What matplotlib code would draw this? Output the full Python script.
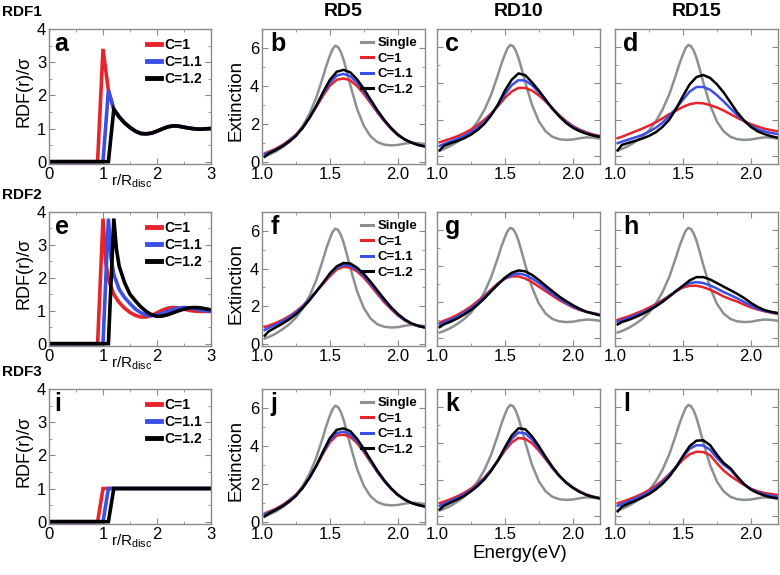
import matplotlib
matplotlib.use('Agg')
import matplotlib.pyplot as plt
from matplotlib.ticker import MultipleLocator, FormatStrFormatter
import matplotlib.transforms as mtransforms

plt.rcParams['font.family'] = ['Liberation Sans', 'DejaVu Sans']
plt.rcParams['mathtext.fontset'] = 'custom'
plt.rcParams['mathtext.rm'] = 'Liberation Sans'
plt.rcParams['mathtext.it'] = 'Liberation Sans'

# ---------------- RDF data ----------------
rdf1_r_red = [0, 0.9, 1.0, 1.1, 1.2, 1.3, 1.4, 1.5, 1.6, 1.7, 1.8, 1.9, 2.0, 2.1, 2.2, 2.3, 2.4, 2.5, 2.6, 2.7, 2.8, 2.9, 3.0]
rdf1_red = [0, 0, 3.4, 2.15, 1.58, 1.35, 1.17, 1.03, 0.92, 0.85, 0.84, 0.86, 0.92, 0.99, 1.05, 1.08, 1.07, 1.04, 1.01, 0.99, 0.98, 0.99, 1.0]
rdf1_r_blue = [0, 1.0, 1.1, 1.2, 1.3, 1.4, 1.5, 1.6, 1.7, 1.8, 1.9, 2.0, 2.1, 2.2, 2.3, 2.4, 2.5, 2.6, 2.7, 2.8, 2.9, 3.0]
rdf1_blue = [0, 0, 2.15, 1.58, 1.35, 1.17, 1.03, 0.92, 0.85, 0.84, 0.86, 0.92, 0.99, 1.05, 1.08, 1.07, 1.04, 1.01, 0.99, 0.98, 0.99, 1.0]
rdf1_r_black = [0, 1.1, 1.2, 1.3, 1.4, 1.5, 1.6, 1.7, 1.8, 1.9, 2.0, 2.1, 2.2, 2.3, 2.4, 2.5, 2.6, 2.7, 2.8, 2.9, 3.0]
rdf1_black = [0, 0, 1.58, 1.35, 1.17, 1.03, 0.92, 0.85, 0.84, 0.86, 0.92, 0.99, 1.05, 1.08, 1.07, 1.04, 1.01, 0.99, 0.98, 0.99, 1.0]

rdf2_r_red = [0, 0.9, 1.0, 1.05, 1.1, 1.2, 1.3, 1.4, 1.5, 1.6, 1.7, 1.8, 1.9, 2.0, 2.1, 2.2, 2.3, 2.4, 2.5, 2.6, 2.7, 2.8, 2.9, 3.0]
rdf2_red = [0, 0, 3.8, 2.5, 1.95, 1.5, 1.25, 1.08, 0.95, 0.86, 0.81, 0.81, 0.86, 0.94, 1.02, 1.08, 1.1, 1.08, 1.05, 1.01, 0.99, 0.98, 0.98, 0.98]
rdf2_r_blue = [0, 1.0, 1.1, 1.15, 1.2, 1.3, 1.4, 1.5, 1.6, 1.7, 1.8, 1.9, 2.0, 2.1, 2.2, 2.3, 2.4, 2.5, 2.6, 2.7, 2.8, 2.9, 3.0]
rdf2_blue = [0, 0, 3.8, 2.6, 2.1, 1.65, 1.4, 1.22, 1.05, 0.94, 0.87, 0.85, 0.87, 0.92, 0.98, 1.04, 1.08, 1.1, 1.09, 1.06, 1.03, 1.0, 0.99]
rdf2_r_black = [0, 1.1, 1.2, 1.25, 1.3, 1.4, 1.5, 1.6, 1.7, 1.8, 1.9, 2.0, 2.1, 2.2, 2.3, 2.4, 2.5, 2.6, 2.7, 2.8, 2.9, 3.0]
rdf2_black = [0, 0, 3.8, 2.85, 2.35, 1.85, 1.5, 1.3, 1.12, 0.98, 0.88, 0.83, 0.84, 0.88, 0.94, 1.0, 1.05, 1.09, 1.1, 1.09, 1.06, 1.03]

rdf3_r_red = [0, 0.9, 1.0, 3.0]
rdf3_red = [0, 0, 1, 1]
rdf3_r_blue = [0, 1.0, 1.1, 3.0]
rdf3_blue = [0, 0, 1, 1]
rdf3_r_black = [0, 1.1, 1.2, 3.0]
rdf3_black = [0, 0, 1, 1]

# ---------------- Extinction data ----------------
energy_single = [1.02, 1.05, 1.1, 1.15, 1.2, 1.25, 1.3, 1.35, 1.4, 1.425, 1.45, 1.475, 1.5,
                 1.52, 1.54, 1.56, 1.58, 1.6, 1.625, 1.65, 1.7, 1.75, 1.8, 1.85, 1.9,
                 1.95, 2.0, 2.05, 2.1, 2.15, 2.2]
single = [0.30, 0.38, 0.55, 0.78, 1.05, 1.4, 1.9, 2.55, 3.4, 3.95, 4.5, 5.1, 5.6,
          5.95, 6.12, 6.05, 5.8, 5.4, 4.75, 4.05, 2.8, 1.9, 1.35, 1.05, 0.92,
          0.88, 0.9, 0.97, 1.02, 1.0, 0.95]

energy = [1.02, 1.05, 1.1, 1.15, 1.2, 1.25, 1.3, 1.35, 1.4, 1.45, 1.5, 1.55, 1.6,
          1.65, 1.7, 1.75, 1.8, 1.85, 1.9, 1.95, 2.0, 2.05, 2.1, 2.15, 2.2]

b_red = [0.46, 0.55, 0.7, 0.9, 1.15, 1.45, 1.85, 2.35, 2.9, 3.5, 4.02, 4.33, 4.4, 4.3, 4.0, 3.58, 3.1, 2.6, 2.15, 1.75, 1.42, 1.18, 1.02, 0.9, 0.83]
b_blue = [0.4, 0.5, 0.66, 0.86, 1.12, 1.42, 1.83, 2.35, 2.95, 3.6, 4.18, 4.55, 4.64, 4.52, 4.18, 3.72, 3.18, 2.65, 2.18, 1.77, 1.43, 1.18, 1.02, 0.9, 0.83]
b_black = [0.28, 0.45, 0.63, 0.83, 1.08, 1.38, 1.8, 2.33, 2.97, 3.68, 4.33, 4.75, 4.85, 4.72, 4.35, 3.85, 3.28, 2.72, 2.22, 1.8, 1.45, 1.2, 1.03, 0.9, 0.82]

c_red = [0.75, 0.82, 0.95, 1.08, 1.25, 1.45, 1.7, 2.0, 2.35, 2.75, 3.2, 3.55, 3.75, 3.75, 3.6, 3.33, 3.0, 2.62, 2.25, 1.92, 1.65, 1.45, 1.3, 1.18, 1.1]
c_blue = [0.55, 0.65, 0.8, 0.94, 1.1, 1.3, 1.55, 1.88, 2.3, 2.8, 3.4, 3.9, 4.18, 4.15, 3.9, 3.5, 3.05, 2.6, 2.2, 1.87, 1.6, 1.4, 1.25, 1.13, 1.05]
c_black = [0.3, 0.55, 0.7, 0.82, 0.97, 1.17, 1.43, 1.78, 2.25, 2.85, 3.6, 4.2, 4.55, 4.45, 4.05, 3.6, 3.1, 2.6, 2.18, 1.82, 1.55, 1.36, 1.22, 1.12, 1.05]

d_red = [0.98, 1.05, 1.2, 1.35, 1.5, 1.67, 1.85, 2.07, 2.3, 2.5, 2.7, 2.85, 2.92, 2.9, 2.8, 2.67, 2.5, 2.3, 2.1, 1.92, 1.75, 1.62, 1.5, 1.42, 1.35]
d_blue = [0.7, 0.78, 0.9, 1.02, 1.15, 1.33, 1.55, 1.83, 2.2, 2.62, 3.1, 3.55, 3.8, 3.8, 3.65, 3.35, 3.0, 2.62, 2.25, 1.93, 1.65, 1.47, 1.35, 1.26, 1.2]
d_black = [0.3, 0.6, 0.72, 0.83, 0.95, 1.1, 1.3, 1.6, 2.0, 2.6, 3.3, 3.95, 4.35, 4.46, 4.3, 3.95, 3.5, 2.95, 2.4, 1.95, 1.6, 1.35, 1.2, 1.08, 1.0]

f_red = [0.9, 0.98, 1.12, 1.28, 1.48, 1.73, 2.03, 2.4, 2.8, 3.2, 3.6, 3.95, 4.1, 4.05, 3.85, 3.52, 3.1, 2.65, 2.22, 1.85, 1.52, 1.26, 1.07, 0.95, 0.88]
f_blue = [0.75, 0.86, 1.02, 1.2, 1.41, 1.68, 2.0, 2.38, 2.8, 3.25, 3.7, 4.05, 4.2, 4.15, 3.95, 3.62, 3.2, 2.74, 2.3, 1.9, 1.56, 1.28, 1.08, 0.96, 0.88]
f_black = [0.45, 0.68, 0.88, 1.08, 1.31, 1.58, 1.92, 2.32, 2.78, 3.25, 3.75, 4.12, 4.3, 4.27, 4.05, 3.72, 3.3, 2.84, 2.38, 1.96, 1.6, 1.31, 1.1, 0.97, 0.88]

g_red = [0.85, 0.95, 1.1, 1.28, 1.5, 1.75, 2.05, 2.35, 2.7, 3.05, 3.3, 3.42, 3.42, 3.3, 3.1, 2.85, 2.6, 2.35, 2.1, 1.9, 1.7, 1.55, 1.45, 1.38, 1.3]
g_blue = [0.75, 0.85, 1.0, 1.18, 1.4, 1.65, 1.95, 2.28, 2.65, 3.0, 3.3, 3.5, 3.58, 3.5, 3.3, 3.05, 2.75, 2.45, 2.2, 1.95, 1.75, 1.58, 1.45, 1.36, 1.28]
g_black = [0.6, 0.75, 0.9, 1.08, 1.3, 1.55, 1.85, 2.2, 2.6, 2.98, 3.35, 3.62, 3.75, 3.7, 3.5, 3.22, 2.9, 2.6, 2.3, 2.05, 1.82, 1.62, 1.45, 1.35, 1.25]

h_red = [1.0, 1.08, 1.2, 1.35, 1.5, 1.68, 1.88, 2.1, 2.35, 2.6, 2.8, 2.9, 2.9, 2.82, 2.68, 2.5, 2.3, 2.15, 2.02, 1.85, 1.7, 1.58, 1.48, 1.4, 1.33]
h_blue = [0.9, 0.98, 1.1, 1.25, 1.4, 1.58, 1.8, 2.05, 2.32, 2.62, 2.88, 3.05, 3.1, 3.05, 2.92, 2.75, 2.55, 2.38, 2.2, 2.0, 1.8, 1.62, 1.5, 1.42, 1.36]
h_black = [0.75, 0.88, 1.0, 1.15, 1.32, 1.52, 1.75, 2.0, 2.3, 2.6, 2.9, 3.2, 3.38, 3.38, 3.25, 3.05, 2.85, 2.65, 2.45, 2.22, 1.95, 1.72, 1.55, 1.45, 1.38]

j_red = [0.45, 0.55, 0.7, 0.9, 1.15, 1.45, 1.85, 2.35, 2.95, 3.6, 4.2, 4.55, 4.6, 4.48, 4.15, 3.68, 3.15, 2.62, 2.15, 1.75, 1.42, 1.18, 1.01, 0.9, 0.82]
j_blue = [0.4, 0.5, 0.66, 0.86, 1.12, 1.42, 1.83, 2.35, 2.97, 3.65, 4.3, 4.68, 4.75, 4.62, 4.25, 3.75, 3.2, 2.65, 2.17, 1.77, 1.43, 1.18, 1.01, 0.9, 0.82]
j_black = [0.3, 0.45, 0.63, 0.83, 1.08, 1.38, 1.8, 2.33, 2.97, 3.72, 4.42, 4.85, 4.93, 4.78, 4.38, 3.85, 3.27, 2.7, 2.2, 1.78, 1.44, 1.19, 1.01, 0.9, 0.82]

k_red = [0.7, 0.78, 0.92, 1.08, 1.27, 1.5, 1.78, 2.12, 2.55, 3.05, 3.6, 4.05, 4.3, 4.25, 4.0, 3.6, 3.12, 2.63, 2.2, 1.85, 1.57, 1.35, 1.18, 1.06, 0.98]
k_blue = [0.55, 0.66, 0.82, 0.99, 1.18, 1.42, 1.72, 2.08, 2.53, 3.08, 3.7, 4.25, 4.6, 4.55, 4.2, 3.72, 3.18, 2.65, 2.2, 1.84, 1.55, 1.33, 1.16, 1.05, 0.97]
k_black = [0.35, 0.55, 0.73, 0.9, 1.1, 1.35, 1.65, 2.02, 2.5, 3.08, 3.78, 4.43, 4.83, 4.78, 4.38, 3.85, 3.25, 2.7, 2.22, 1.84, 1.55, 1.32, 1.15, 1.04, 0.96]

l_red = [0.69, 0.77, 0.9, 1.05, 1.22, 1.42, 1.66, 1.95, 2.3, 2.7, 3.1, 3.4, 3.54, 3.52, 3.35, 2.9, 2.5, 2.2, 1.95, 1.7, 1.5, 1.36, 1.26, 1.2, 1.15]
l_blue = [0.55, 0.65, 0.8, 0.95, 1.12, 1.32, 1.56, 1.87, 2.25, 2.72, 3.25, 3.7, 3.9, 3.88, 3.65, 3.2, 2.82, 2.55, 2.12, 1.75, 1.48, 1.3, 1.18, 1.1, 1.05]
l_black = [0.25, 0.5, 0.68, 0.83, 1.0, 1.2, 1.45, 1.77, 2.17, 2.68, 3.3, 3.85, 4.15, 4.17, 3.9, 3.38, 2.92, 2.62, 2.17, 1.75, 1.45, 1.26, 1.12, 1.02, 0.96]

rdf_labels = ['C=1', 'C=1.1', 'C=1.2']
ext_labels = ['Single', 'C=1', 'C=1.1', 'C=1.2']
row_titles = ['RDF1', 'RDF2', 'RDF3']
col_titles = ['RD5', 'RD10', 'RD15']

RED = '#e8242b'
BLUE = '#3b4fe6'
BLACK = '#000000'
GRAY = '#8b9191'
SPINE = '#8a8a8a'

W, H = 780, 575
fig = plt.figure(figsize=(W / 100, H / 100), dpi=100)


def px_axes(x0, y0, x1, y1):
    return fig.add_axes([x0 / W, 1 - y1 / H, (x1 - x0) / W, (y1 - y0) / H])


def style(ax):
    for s in ax.spines.values():
        s.set_color(SPINE)
        s.set_linewidth(1.0)
    ax.tick_params(which='both', direction='in', top=True, right=True, color=SPINE,
                   labelsize=12, pad=2)
    ax.tick_params(which='major', length=4)
    ax.tick_params(which='minor', length=2)


rows_y = [(29, 164), (212, 346), (389, 524)]
ext_x = [(262, 425), (437, 600), (615, 778)]
rdf_x = (49, 211)

rdf_data = [
    [(rdf1_r_red, rdf1_red), (rdf1_r_blue, rdf1_blue), (rdf1_r_black, rdf1_black)],
    [(rdf2_r_red, rdf2_red), (rdf2_r_blue, rdf2_blue), (rdf2_r_black, rdf2_black)],
    [(rdf3_r_red, rdf3_red), (rdf3_r_blue, rdf3_blue), (rdf3_r_black, rdf3_black)],
]
ext_data = [
    [(b_red, b_blue, b_black), (c_red, c_blue, c_black), (d_red, d_blue, d_black)],
    [(f_red, f_blue, f_black), (g_red, g_blue, g_black), (h_red, h_blue, h_black)],
    [(j_red, j_blue, j_black), (k_red, k_blue, k_black), (l_red, l_blue, l_black)],
]
letters = [['a', 'b', 'c', 'd'], ['e', 'f', 'g', 'h'], ['i', 'j', 'k', 'l']]
ext_ylims = [[(-0.1, 7.0), (-0.45, 7.0), (-0.45, 7.0)],
             [(-0.1, 7.0), (-0.45, 7.0), (-0.45, 7.0)],
             [(-0.1, 7.0), (-0.45, 7.0), (-0.45, 7.0)]]

for i in range(3):
    y0, y1 = rows_y[i]
    # RDF panel
    ax = px_axes(rdf_x[0], y0, rdf_x[1], y1)
    style(ax)
    for (r, v), col, lab in zip(rdf_data[i], [RED, BLUE, BLACK], rdf_labels):
        ax.plot(r, v, color=col, lw=2.6, label=lab, solid_joinstyle='miter')
    ax.set_xlim(0, 3)
    ax.set_ylim(-0.07, 4)
    ax.xaxis.set_major_locator(MultipleLocator(1))
    ax.xaxis.set_minor_locator(MultipleLocator(0.5))
    ax.yaxis.set_major_locator(MultipleLocator(1))
    ax.yaxis.set_minor_locator(MultipleLocator(0.5))
    ax.set_ylabel('RDF(r)/σ', fontsize=13)
    ax.yaxis.set_label_coords(-0.10, 0.54)
    trans = mtransforms.blended_transform_factory(ax.transData, ax.transAxes)
    ax.text(1.53, -0.13, r'r/R$_{\mathregular{disc}}$', transform=trans, fontsize=11,
            ha='center', va='center')
    ax.text(0.035, 0.975, letters[i][0], transform=ax.transAxes, fontsize=18,
            fontweight='bold', ha='left', va='top')
    leg = ax.legend(loc='upper right', frameon=False, handlelength=1.0, handletextpad=0.25,
                    labelspacing=0.2, borderaxespad=0.25, prop={'weight': 'bold', 'size': 10})
    for lh in leg.get_lines():
        lh.set_linewidth(3.5)
    fig.text(2 / W, 1 - rows_y[i][0] / H + 17 / H, row_titles[i], fontsize=11,
             fontweight='bold', ha='left', va='center')

    for j in range(3):
        x0, x1 = ext_x[j]
        ax = px_axes(x0, y0, x1, y1)
        style(ax)
        red, blue, black = ext_data[i][j]
        ax.plot(energy_single, single, color=GRAY, lw=1.8, label=ext_labels[0])
        ax.plot(energy, red, color=RED, lw=1.8, label=ext_labels[1])
        ax.plot(energy, blue, color=BLUE, lw=1.8, label=ext_labels[2])
        ax.plot(energy, black, color=BLACK, lw=1.8, label=ext_labels[3])
        ax.set_xlim(1.0, 2.2)
        ax.set_ylim(*ext_ylims[i][j])
        ax.xaxis.set_major_locator(MultipleLocator(0.5))
        ax.xaxis.set_minor_locator(MultipleLocator(0.25))
        ax.yaxis.set_major_locator(MultipleLocator(2))
        ax.yaxis.set_minor_locator(MultipleLocator(1))
        ax.xaxis.set_major_formatter(FormatStrFormatter('%.1f'))
        ax.text(0.05, 0.975, letters[i][j + 1], transform=ax.transAxes, fontsize=18,
                fontweight='bold', ha='left', va='top')
        if j == 0:
            ax.set_ylabel('Extinction', fontsize=13.5)
            ax.yaxis.set_label_coords(-0.105, 0.47)
            leg = ax.legend(loc='upper right', frameon=False, handlelength=0.9,
                            handletextpad=0.3, labelspacing=0.25, borderaxespad=0.2,
                            prop={'weight': 'bold', 'size': 9.5})
            for lh in leg.get_lines():
                lh.set_linewidth(2.2)
        else:
            ax.tick_params(labelleft=False)
        if i == 0:
            ax.text(0.5, 1.0 + 17 / 135, col_titles[j], transform=ax.transAxes,
                    fontsize=14, fontweight='bold', ha='center', va='center')

fig.text(520 / W, 1 - 553 / H, 'Energy(eV)', fontsize=13.5, ha='center', va='center')

fig.savefig('out.png', dpi=100)
